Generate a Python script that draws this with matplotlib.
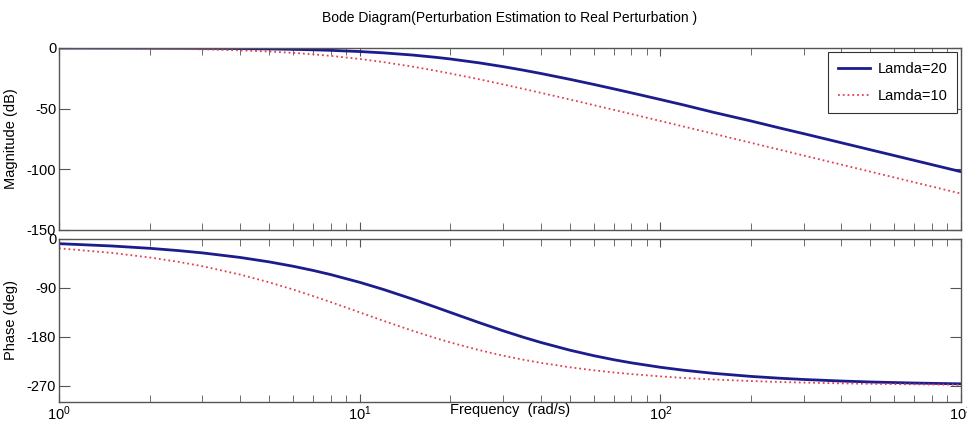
import numpy as np
import matplotlib.pyplot as plt
from matplotlib.ticker import LogLocator, NullFormatter

plt.rcParams['font.family'] = ['Liberation Sans', 'DejaVu Sans']
plt.rcParams['mathtext.fontset'] = 'custom'
plt.rcParams['mathtext.rm'] = 'Liberation Sans'
plt.rcParams['axes.unicode_minus'] = False

# frequencies read along the x axis (rad/s)
freq = [1, 1.5, 2, 2.5, 3, 4, 5, 6, 7, 8, 10, 12, 15, 18, 20, 25, 30, 35, 40,
        50, 60, 70, 80, 100, 120, 150, 200, 250, 300, 400, 500, 700, 1000]

# magnitude (dB)
mag_l20 = [-0.03, -0.07, -0.13, -0.20, -0.29, -0.51, -0.79, -1.12, -1.51, -1.93,
           -2.91, -4.01, -5.81, -7.73, -9.03, -12.26, -15.36, -18.27, -20.97,
           -25.81, -30.0, -33.67, -36.91, -42.45, -47.05, -52.96, -60.13,
           -65.98, -70.62, -78.09, -83.90, -92.65, -101.94]
mag_l10 = [-0.13, -0.29, -0.51, -0.79, -1.12, -1.93, -2.91, -4.01, -5.20, -6.45,
           -9.03, -11.62, -15.36, -18.82, -20.97, -25.81, -30.0, -33.67, -36.91,
           -42.45, -47.05, -50.97, -54.39, -60.13, -64.84, -70.62, -78.09,
           -83.90, -88.64, -96.13, -101.94, -110.71, -120.0]

# phase (deg)
ph_l20 = [-8.59, -12.87, -17.13, -21.38, -25.59, -33.93, -42.11, -50.10, -57.87,
          -65.40, -79.70, -92.89, -110.61, -125.96, -135.0, -154.02, -168.93,
          -180.76, -190.30, -204.60, -214.70, -222.17, -227.89, -236.07,
          -241.61, -247.22, -252.87, -256.28, -258.56, -261.41, -263.13,
          -265.09, -266.56]
ph_l10 = [-17.13, -25.59, -33.93, -42.11, -50.10, -65.40, -79.70, -92.89,
          -104.98, -115.98, -135.0, -150.58, -168.93, -182.84, -190.30, -204.60,
          -214.70, -222.17, -227.89, -236.07, -241.61, -245.61, -248.62,
          -252.87, -255.71, -258.56, -261.41, -263.13, -264.27, -265.70,
          -266.56, -267.55, -268.28]

labels = ['Lamda=20', 'Lamda=10']
blue = '#1c1c8c'
red = '#e04050'
axc = '#555555'

fig = plt.figure(figsize=(9.67, 4.30), dpi=100)
fig.patch.set_color('white')
W, H = 967.0, 430.0
ax1 = fig.add_axes([59/W, 1-230/H, 902/W, 182/H])
ax2 = fig.add_axes([59/W, 1-402/H, 902/W, 163/H])

ax1.semilogx(freq, mag_l20, color=blue, lw=2.0, label=labels[0])
ax1.semilogx(freq, mag_l10, color=red, lw=1.3, ls=':', label=labels[1])
ax2.semilogx(freq, ph_l20, color=blue, lw=2.0)
ax2.semilogx(freq, ph_l10, color=red, lw=1.3, ls=':')

ax1.set_ylim(-150, 0)
ax1.set_yticks([0, -50, -100, -150])
ax2.set_ylim(-300, 0)
ax2.set_yticks([0, -90, -180, -270])

for ax in (ax1, ax2):
    ax.set_xlim(1, 1000)
    ax.xaxis.set_major_locator(LogLocator(base=10))
    ax.xaxis.set_minor_locator(LogLocator(base=10, subs=np.arange(2, 10)))
    ax.xaxis.set_minor_formatter(NullFormatter())
    ax.tick_params(which='both', direction='in', top=True, right=True,
                   color=axc, labelsize=10.5, pad=2)
    ax.tick_params(axis='x', which='major', length=6)
    ax.tick_params(axis='x', which='minor', length=5)
    ax.tick_params(axis='y', which='major', length=8)
    for s in ax.spines.values():
        s.set_color(axc)
        s.set_linewidth(1.0)

ax1.tick_params(axis='x', labelbottom=False)

ax1.set_ylabel('Magnitude (dB)', fontsize=10.5)
ax2.set_ylabel('Phase (deg)', fontsize=10.5)
ax1.yaxis.set_label_coords(-0.046, 0.5)
ax2.yaxis.set_label_coords(-0.046, 0.5)

fig.text(510/W, 1-410/H, 'Frequency  (rad/s)', ha='center', va='center',
         fontsize=10.5)
fig.text(510/W, 1-18/H, 'Bode Diagram(Perturbation Estimation to Real Perturbation )',
         ha='center', va='center', fontsize=10)

leg = ax1.legend(loc='upper right', fontsize=10.5, fancybox=False,
                 framealpha=1, borderaxespad=0.25, borderpad=0.7,
                 handlelength=2.2, handletextpad=0.5, labelspacing=0.9)
leg.get_frame().set_edgecolor('#333333')
leg.get_frame().set_linewidth(0.8)

plt.savefig('out.png', dpi=100)
